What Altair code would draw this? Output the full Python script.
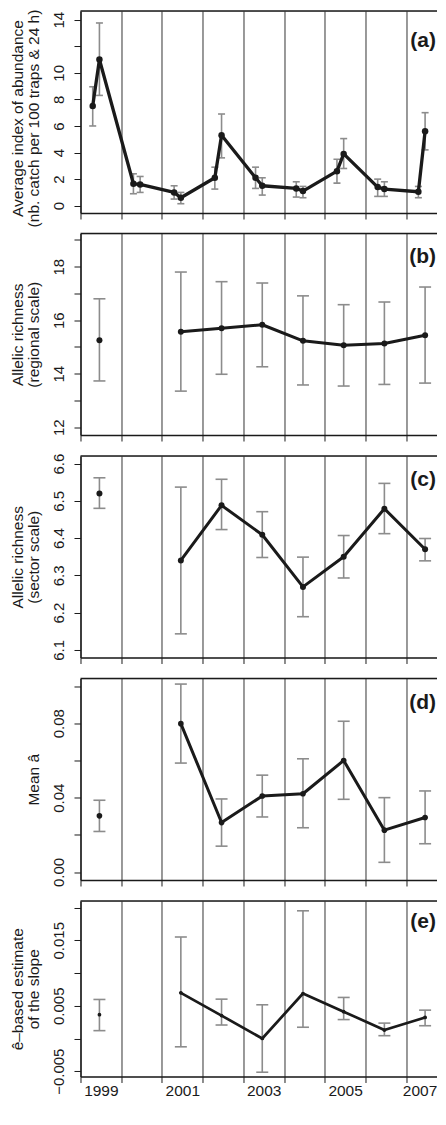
import altair as alt
import pandas as pd

FONT = "Liberation Sans"

# ---------------- data ----------------
# panel (a): two trapping sessions per year (decimal-year dates)
abund_time = [1999.30, 1999.465, 2000.30, 2000.465, 2001.30, 2001.465,
              2002.30, 2002.465, 2003.30, 2003.465, 2004.30, 2004.465,
              2005.30, 2005.465, 2006.30, 2006.465, 2007.30, 2007.465]
abund_mean = [7.5, 11.0, 1.65, 1.6, 1.0, 0.6, 2.1, 5.3, 2.1, 1.5,
              1.3, 1.1, 2.6, 3.9, 1.4, 1.25, 1.05, 5.6]
abund_hi = [8.95, 13.75, 2.4, 2.2, 1.5, 1.0, 2.9, 6.9, 2.9, 2.1,
            1.8, 1.45, 3.5, 5.05, 2.0, 1.8, 1.45, 7.0]
abund_lo = [6.0, 8.3, 0.9, 1.0, 0.5, 0.15, 1.25, 3.6, 1.3, 0.8,
            0.65, 0.6, 1.7, 2.8, 0.7, 0.7, 0.6, 4.2]

# genetic sampling dates (no sample in 2000)
gen_time = [1999.465, 2001.465, 2002.465, 2003.465, 2004.465, 2005.465, 2006.465, 2007.465]

ar_reg_mean = [15.25, 15.57, 15.70, 15.83, 15.23, 15.06, 15.13, 15.44]
ar_reg_hi = [16.80, 17.80, 17.44, 17.39, 16.91, 16.58, 16.68, 17.24]
ar_reg_lo = [13.73, 13.35, 13.98, 14.26, 13.58, 13.54, 13.60, 13.65]

ar_sec_mean = [6.520, 6.340, 6.488, 6.409, 6.269, 6.350, 6.479, 6.370]
ar_sec_hi = [6.562, 6.537, 6.558, 6.471, 6.349, 6.407, 6.547, 6.399]
ar_sec_lo = [6.480, 6.143, 6.423, 6.348, 6.189, 6.293, 6.412, 6.339]

a_mean = [0.0302, 0.0798, 0.0266, 0.0409, 0.0421, 0.0600, 0.0225, 0.0293]
a_hi = [0.0386, 0.1011, 0.0393, 0.0521, 0.0609, 0.0811, 0.0400, 0.0436]
a_lo = [0.0218, 0.0586, 0.0139, 0.0296, 0.0238, 0.0391, 0.0052, 0.0152]

slope_mean = [0.00363, 0.00697, 0.00350, 0.00000, 0.00687, 0.00410, 0.00129, 0.00322]
slope_hi = [0.00596, 0.01550, 0.00601, 0.00515, 0.01950, 0.00627, 0.00235, 0.00433]
slope_lo = [0.00120, -0.00127, 0.00206, -0.00515, 0.00172, 0.00289, 0.00043, 0.00195]

year_bounds = [1999, 2000, 2001, 2002, 2003, 2004, 2005, 2006, 2007]

# ---------------- layout constants ----------------
YEAR_PX = 40.71
W = 9 * YEAR_PX
INK = "#1a1a1a"
ERR = "#8c8c8c"


def x_axis(show_labels):
    kw = dict(values=year_bounds, grid=True, gridColor="#333333", gridWidth=1,
              domain=True, domainColor=INK, domainWidth=1.6,
              ticks=True, tickSize=6, tickColor=INK, tickWidth=1,
              title=None)
    if show_labels:
        kw.update(labels=True,
                  labelExpr="(datum.value % 2 == 1) ? toString(datum.value) : ''",
                  labelOffset={"condition": {"test": "datum.value == 2007", "value": YEAR_PX / 2 - 7},
                               "value": YEAR_PX / 2},
                  labelFlush=False, labelOverlap=False,
                  labelFontSize=15.5, labelPadding=1, labelColor=INK, labelFont=FONT)
    else:
        kw.update(labels=False)
    return alt.Axis(**kw)


def y_axis(values, label_expr, fmt, two_lines, height, tsize, tshift):
    return alt.Axis(values=values, labelExpr=label_expr, format=fmt,
                    labelAngle=270, labelAlign="center", labelBaseline="alphabetic",
                    labelPadding=10, labelFontSize=15, labelColor=INK, labelFont=FONT,
                    labelOverlap=False, labelFlush=False, labelBound=False,
                    tickSize=6.5, tickColor=INK, tickWidth=1,
                    domain=True, domainColor=INK, domainWidth=1.4, grid=False,
                    titleX=-55 if two_lines else -39, titleY=height / 2 + tshift,
                    titleAngle=270, titleBaseline="bottom", titleAlign="center",
                    titleFontSize=tsize, titleFontWeight="normal", titleFont=FONT,
                    titleColor=INK, titleLineHeight=16)


def panel(times, mean, lo, hi, domain, height, title, yvals, lexpr, fmt,
          label, label_y, cap, pt_size, line_w, line_from, tsize=15.5, tshift=0):
    df = pd.DataFrame({"t": times, "m": mean, "lo": lo, "hi": hi})
    xs = alt.Scale(domain=[1999, 2008], nice=False, zero=False)
    ys = alt.Scale(domain=domain, nice=False, zero=False)
    show = label == "(e)"
    two = isinstance(title, list)
    yax = y_axis(yvals, lexpr, fmt, two, height, tsize, tshift)
    base = alt.Chart(df)
    x_enc = alt.X("t:Q", scale=xs, axis=x_axis(show))
    err = base.mark_rule(color=ERR, strokeWidth=1.6).encode(
        x=x_enc, y=alt.Y("lo:Q", scale=ys, title=title, axis=yax), y2="hi:Q")
    cap_hi = base.mark_tick(orient="horizontal", size=cap, thickness=1.6, color=ERR, opacity=1).encode(
        x="t:Q", y=alt.Y("hi:Q", title=title, axis=yax))
    cap_lo = base.mark_tick(orient="horizontal", size=cap, thickness=1.6, color=ERR, opacity=1).encode(
        x="t:Q", y=alt.Y("lo:Q", title=title, axis=yax))
    line = base.transform_filter(alt.datum.t >= line_from).mark_line(
        color=INK, strokeWidth=line_w, strokeJoin="round", strokeCap="round").encode(
        x="t:Q", y=alt.Y("m:Q", title=title, axis=yax), order="t:Q")
    pts = base.mark_circle(color=INK, size=pt_size, opacity=1).encode(
        x="t:Q", y=alt.Y("m:Q", title=title, axis=yax))
    lab = alt.Chart(pd.DataFrame({"lab": [label]})).mark_text(
        align="right", baseline="middle", fontWeight="bold", fontSize=21,
        font=FONT, color=INK).encode(
        text="lab:N", x=alt.value(355.5), y=alt.value(label_y))
    top = alt.Chart(pd.DataFrame({"lab": [label]})).mark_rule(
        color=INK, strokeWidth=1.4).encode(
        x=alt.value(0), x2=alt.value(W), y=alt.value(0))
    return alt.layer(err, cap_hi, cap_lo, line, pts, lab, top).properties(width=W, height=height)


pa = panel(abund_time, abund_mean, abund_lo, abund_hi, [-0.55, 14.65], 202,
           ["Average index of abundance", "(nb. catch per 100 traps & 24 h)"],
           [0, 2, 4, 6, 8, 10, 12, 14], "datum.value == 12 ? '' : toString(datum.value)", "d",
           "(a)", 30, 7, 42, 3.3, 1999, tsize=15.5, tshift=6)
pb = panel(gen_time, ar_reg_mean, ar_reg_lo, ar_reg_hi, [11.71, 19.24], 201.5,
           ["Allelic richness", "(regional scale)"],
           [12, 13, 14, 15, 16, 17, 18, 19], "datum.value % 2 == 0 ? toString(datum.value) : ''", "d",
           "(b)", 23, 12, 36, 3.0, 2001)
pc = panel(gen_time, ar_sec_mean, ar_sec_lo, ar_sec_hi, [6.0795, 6.6205], 201.5,
           ["Allelic richness", "(sector scale)"],
           [6.1, 6.2, 6.3, 6.4, 6.5, 6.6], "datum.label", ".1f",
           "(c)", 24, 12, 36, 3.0, 2001)
pd_ = panel(gen_time, a_mean, a_lo, a_hi, [-0.0043, 0.1041], 201.5,
            "Mean â",
            [0, 0.02, 0.04, 0.06, 0.08, 0.10],
            "(abs(datum.value) < 1e-9 || abs(datum.value - 0.04) < 1e-9 || abs(datum.value - 0.08) < 1e-9) ? datum.label : ''",
            ".2f", "(d)", 25, 12, 32, 3.0, 2001)
pe = panel(gen_time, slope_mean, slope_lo, slope_hi, [-0.0058, 0.021], 175.5,
           ["ê–based estimate", "of the slope"],
           [-0.005, 0, 0.005, 0.01, 0.015, 0.02],
           "(abs(datum.value + 0.005) < 1e-9 || abs(datum.value - 0.005) < 1e-9 || abs(datum.value - 0.015) < 1e-9) ? datum.label : ''",
           ".3f", "(e)", 21, 12, 14, 2.7, 2001)

chart = alt.vconcat(pa, pb, pc, pd_, pe, spacing=20.5, bounds="flush").properties(
    padding={"left": 1.5, "top": 0, "right": -11.5, "bottom": 0}
).configure_view(stroke=None).configure_axis(labelOverlap=False).configure(background="white")

chart.save("out.html", embed_options={"renderer": "svg", "actions": False})
